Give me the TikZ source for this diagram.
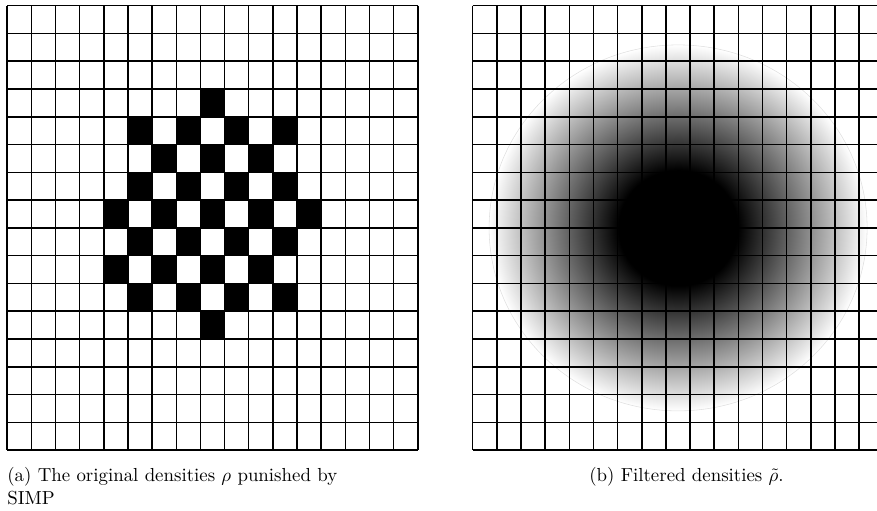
\documentclass[tikz,border=0pt]{standalone}
\usetikzlibrary{positioning}
% filtered density: black core, linear fade to white at the rim
\pgfdeclareradialshading{filtered}{\pgfpointorigin}{color(0bp)=(black); color(7.9bp)=(black); color(25bp)=(white); color(50bp)=(white)}

\begin{document}
\begin{tikzpicture}[x=0.53pt, y=-0.53pt,
    gridline/.style={line width=0.8pt},
    cellon/.style={fill=black},
    caption/.style={inner sep=0pt, font=\normalsize}]
    \useasboundingbox (0,0) rectangle (877,510);

    % (a) SIMP densities
    \begin{scope}[shift={(7.2,5.7)}, x=12.8pt, y=-14.72pt]
        \foreach \c/\r in {8/3,
                5/4, 7/4, 9/4, 11/4,
                6/5, 8/5, 10/5,
                5/6, 7/6, 9/6, 11/6,
                4/7, 6/7, 8/7, 10/7, 12/7,
                5/8, 7/8, 9/8, 11/8,
                4/9, 6/9, 8/9, 10/9,
                5/10, 7/10, 9/10, 11/10,
                8/11}
            \fill[cellon] (\c,\r) rectangle ++(1,1);
        \foreach \i in {0,...,17}
            \draw[gridline] (\i,0) -- (\i,16);
        \foreach \j in {0,...,16}
            \draw[gridline] (0,\j) -- (17,\j);
    \end{scope}

    % (b) filtered densities
    \begin{scope}
        \clip (0,0) rectangle (877,510);
        \coordinate (mid) at (678.1,227.9);
        \shade[shading=filtered] (mid) ellipse [x radius=189, y radius=183];
        \draw[black!12, line width=0.3pt] (mid) ellipse [x radius=189, y radius=183];
        \begin{scope}[shift={(472.7,5.7)}, x=12.8pt, y=-14.72pt]
            \foreach \i in {0,...,17}
                \draw[gridline] (\i,0) -- (\i,16);
            \foreach \j in {0,...,16}
                \draw[gridline] (0,\j) -- (17,\j);
        \end{scope}
    \end{scope}

    \node[caption, anchor=base west, align=left] (capa) at (7,504.3)
        {(a) The original densities $\rho$ punished by\\SIMP};
    \node[caption, anchor=base] (capb) at (686.5,481.7)
        {(b) Filtered densities $\tilde{\rho}$.};
\end{tikzpicture}
\end{document}
